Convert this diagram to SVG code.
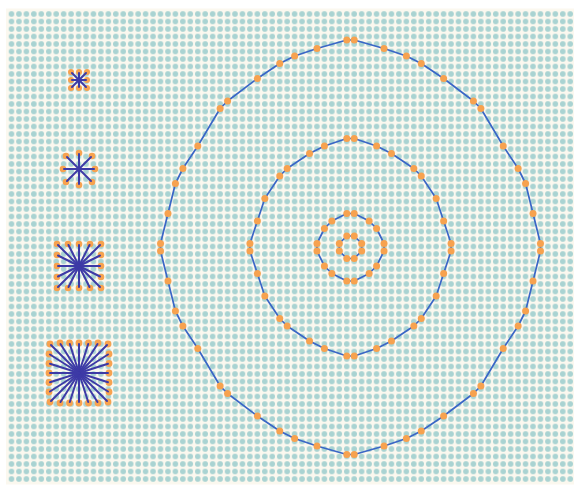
<svg xmlns="http://www.w3.org/2000/svg" width="577" height="491" viewBox="0 0 577 491">
<style>
.ring{fill:none;stroke:#3a66c6;stroke-width:1.7;stroke-linejoin:round}
.od{fill:#f7a24f}
.star line{stroke:#3d3aa6;stroke-width:2;stroke-linecap:round}
</style>
<defs>
<pattern id="grid" patternUnits="userSpaceOnUse" x="7.775" y="10.25" width="7.45" height="7.5">
<circle cx="3.725" cy="3.75" r="2.8" fill="#a9d3d2"/>
</pattern>
</defs>
<rect width="577" height="491" fill="#ffffff"/>
<rect x="6" y="8.5" width="568" height="476" fill="#fbf8ef"/>
<rect x="7.775" y="10.25" width="566.2" height="472.5" fill="url(#grid)"/>

<g id="connectors">
<polygon class="ring" points="354.225,40 384.025,48.5 406.375,56 421.275,63.5 443.625,78.5 473.425,101 480.875,108.5 503.225,146 518.125,168.5 525.575,183.5 533.025,213.5 540.475,243.5 540.475,251 533.025,281 525.575,311 518.125,326 503.225,348.5 480.875,386 473.425,393.5 443.625,416 421.275,431 406.375,438.5 384.025,446 354.225,454.5 346.775,454.5 316.975,446 294.625,438.5 279.725,431 257.375,416 227.575,393.5 220.125,386 197.775,348.5 182.875,326 175.425,311 167.975,281 160.525,251 160.525,243.5 167.975,213.5 175.425,183.5 182.875,168.5 197.775,146 220.125,108.5 227.575,101 257.375,78.5 279.725,63.5 294.625,56 316.975,48.5 346.775,40"/>
<polygon class="ring" points="354.225,138.5 376.575,146 391.475,153.5 413.825,168.5 421.275,176 436.175,198.5 443.625,221 451.075,243.5 451.075,251 443.625,273.5 436.175,296 421.275,318.5 413.825,326 391.475,341 376.575,348.5 354.225,356 346.775,356 324.425,348.5 309.525,341 287.175,326 279.725,318.5 264.825,296 257.375,273.5 249.925,251 249.925,243.5 257.375,221 264.825,198.5 279.725,176 287.175,168.5 309.525,153.5 324.425,146 346.775,138.5"/>
<polygon class="ring" points="354.225,213.5 369.125,221 376.575,228.5 384.025,243.5 384.025,251 376.575,266 369.125,273.5 354.225,281 346.775,281 331.875,273.5 324.425,266 316.975,251 316.975,243.5 324.425,228.5 331.875,221 346.775,213.5"/>
<polygon class="ring" points="354.225,236 361.675,243.5 361.675,251 354.225,258.5 346.775,258.5 339.325,251 339.325,243.5 346.775,236"/>
</g>

<g id="ring-outer" class="od">
<circle cx="354.225" cy="40" r="3.5"/><circle cx="384.025" cy="48.5" r="3.5"/><circle cx="406.375" cy="56" r="3.5"/><circle cx="421.275" cy="63.5" r="3.5"/><circle cx="443.625" cy="78.5" r="3.5"/><circle cx="473.425" cy="101" r="3.5"/><circle cx="480.875" cy="108.5" r="3.5"/><circle cx="503.225" cy="146" r="3.5"/><circle cx="518.125" cy="168.5" r="3.5"/><circle cx="525.575" cy="183.5" r="3.5"/><circle cx="533.025" cy="213.5" r="3.5"/><circle cx="540.475" cy="243.5" r="3.5"/>
<circle cx="540.475" cy="251" r="3.5"/><circle cx="533.025" cy="281" r="3.5"/><circle cx="525.575" cy="311" r="3.5"/><circle cx="518.125" cy="326" r="3.5"/><circle cx="503.225" cy="348.5" r="3.5"/><circle cx="480.875" cy="386" r="3.5"/><circle cx="473.425" cy="393.5" r="3.5"/><circle cx="443.625" cy="416" r="3.5"/><circle cx="421.275" cy="431" r="3.5"/><circle cx="406.375" cy="438.5" r="3.5"/><circle cx="384.025" cy="446" r="3.5"/><circle cx="354.225" cy="454.5" r="3.5"/>
<circle cx="346.775" cy="454.5" r="3.5"/><circle cx="316.975" cy="446" r="3.5"/><circle cx="294.625" cy="438.5" r="3.5"/><circle cx="279.725" cy="431" r="3.5"/><circle cx="257.375" cy="416" r="3.5"/><circle cx="227.575" cy="393.5" r="3.5"/><circle cx="220.125" cy="386" r="3.5"/><circle cx="197.775" cy="348.5" r="3.5"/><circle cx="182.875" cy="326" r="3.5"/><circle cx="175.425" cy="311" r="3.5"/><circle cx="167.975" cy="281" r="3.5"/><circle cx="160.525" cy="251" r="3.5"/>
<circle cx="160.525" cy="243.5" r="3.5"/><circle cx="167.975" cy="213.5" r="3.5"/><circle cx="175.425" cy="183.5" r="3.5"/><circle cx="182.875" cy="168.5" r="3.5"/><circle cx="197.775" cy="146" r="3.5"/><circle cx="220.125" cy="108.5" r="3.5"/><circle cx="227.575" cy="101" r="3.5"/><circle cx="257.375" cy="78.5" r="3.5"/><circle cx="279.725" cy="63.5" r="3.5"/><circle cx="294.625" cy="56" r="3.5"/><circle cx="316.975" cy="48.5" r="3.5"/><circle cx="346.775" cy="40" r="3.5"/>
</g>

<g id="ring-middle" class="od">
<circle cx="354.225" cy="138.5" r="3.5"/><circle cx="376.575" cy="146" r="3.5"/><circle cx="391.475" cy="153.5" r="3.5"/><circle cx="413.825" cy="168.5" r="3.5"/><circle cx="421.275" cy="176" r="3.5"/><circle cx="436.175" cy="198.5" r="3.5"/><circle cx="443.625" cy="221" r="3.5"/><circle cx="451.075" cy="243.5" r="3.5"/>
<circle cx="451.075" cy="251" r="3.5"/><circle cx="443.625" cy="273.5" r="3.5"/><circle cx="436.175" cy="296" r="3.5"/><circle cx="421.275" cy="318.5" r="3.5"/><circle cx="413.825" cy="326" r="3.5"/><circle cx="391.475" cy="341" r="3.5"/><circle cx="376.575" cy="348.5" r="3.5"/><circle cx="354.225" cy="356" r="3.5"/>
<circle cx="346.775" cy="356" r="3.5"/><circle cx="324.425" cy="348.5" r="3.5"/><circle cx="309.525" cy="341" r="3.5"/><circle cx="287.175" cy="326" r="3.5"/><circle cx="279.725" cy="318.5" r="3.5"/><circle cx="264.825" cy="296" r="3.5"/><circle cx="257.375" cy="273.5" r="3.5"/><circle cx="249.925" cy="251" r="3.5"/>
<circle cx="249.925" cy="243.5" r="3.5"/><circle cx="257.375" cy="221" r="3.5"/><circle cx="264.825" cy="198.5" r="3.5"/><circle cx="279.725" cy="176" r="3.5"/><circle cx="287.175" cy="168.5" r="3.5"/><circle cx="309.525" cy="153.5" r="3.5"/><circle cx="324.425" cy="146" r="3.5"/><circle cx="346.775" cy="138.5" r="3.5"/>
</g>

<g id="ring-inner" class="od">
<circle cx="354.225" cy="213.5" r="3.5"/><circle cx="369.125" cy="221" r="3.5"/><circle cx="376.575" cy="228.5" r="3.5"/><circle cx="384.025" cy="243.5" r="3.5"/><circle cx="384.025" cy="251" r="3.5"/><circle cx="376.575" cy="266" r="3.5"/><circle cx="369.125" cy="273.5" r="3.5"/><circle cx="354.225" cy="281" r="3.5"/>
<circle cx="346.775" cy="281" r="3.5"/><circle cx="331.875" cy="273.5" r="3.5"/><circle cx="324.425" cy="266" r="3.5"/><circle cx="316.975" cy="251" r="3.5"/><circle cx="316.975" cy="243.5" r="3.5"/><circle cx="324.425" cy="228.5" r="3.5"/><circle cx="331.875" cy="221" r="3.5"/><circle cx="346.775" cy="213.5" r="3.5"/>
</g>

<g id="ring-innermost" class="od">
<circle cx="354.225" cy="236" r="3.5"/><circle cx="361.675" cy="243.5" r="3.5"/><circle cx="361.675" cy="251" r="3.5"/><circle cx="354.225" cy="258.5" r="3.5"/><circle cx="346.775" cy="258.5" r="3.5"/><circle cx="339.325" cy="251" r="3.5"/><circle cx="339.325" cy="243.5" r="3.5"/><circle cx="346.775" cy="236" r="3.5"/>
</g>

<g id="star-1" class="star" transform="translate(79,80)">
<g class="od"><circle cx="-8" cy="-8" r="3"/><circle cx="0" cy="-8" r="3"/><circle cx="8" cy="-8" r="3"/><circle cx="8" cy="0" r="3"/><circle cx="8" cy="8" r="3"/><circle cx="0" cy="8" r="3"/><circle cx="-8" cy="8" r="3"/><circle cx="-8" cy="0" r="3"/></g>
<line x1="0" y1="0" x2="-7" y2="-7"/><line x1="0" y1="0" x2="0" y2="-7"/><line x1="0" y1="0" x2="7" y2="-7"/><line x1="0" y1="0" x2="7" y2="0"/><line x1="0" y1="0" x2="7" y2="7"/><line x1="0" y1="0" x2="0" y2="7"/><line x1="0" y1="0" x2="-7" y2="7"/><line x1="0" y1="0" x2="-7" y2="0"/>
</g>

<g id="star-2" class="star" transform="translate(79,169)">
<g class="od"><circle cx="-13" cy="-13" r="3.3"/><circle cx="0" cy="-16" r="3.3"/><circle cx="13" cy="-13" r="3.3"/><circle cx="16" cy="0" r="3.3"/><circle cx="13" cy="13" r="3.3"/><circle cx="0" cy="16" r="3.3"/><circle cx="-13" cy="13" r="3.3"/><circle cx="-16" cy="0" r="3.3"/></g>
<line x1="0" y1="0" x2="-12" y2="-12"/><line x1="0" y1="0" x2="0" y2="-15"/><line x1="0" y1="0" x2="12" y2="-12"/><line x1="0" y1="0" x2="15" y2="0"/><line x1="0" y1="0" x2="12" y2="12"/><line x1="0" y1="0" x2="0" y2="15"/><line x1="0" y1="0" x2="-12" y2="12"/><line x1="0" y1="0" x2="-15" y2="0"/>
</g>

<g id="star-3" class="star" transform="translate(79,266)">
<g class="od"><circle cx="-22" cy="-22" r="3.3"/><circle cx="-11" cy="-22" r="3.3"/><circle cx="0" cy="-22" r="3.3"/><circle cx="11" cy="-22" r="3.3"/><circle cx="22" cy="-22" r="3.3"/><circle cx="22" cy="-11" r="3.3"/><circle cx="22" cy="0" r="3.3"/><circle cx="22" cy="11" r="3.3"/><circle cx="22" cy="22" r="3.3"/><circle cx="11" cy="22" r="3.3"/><circle cx="0" cy="22" r="3.3"/><circle cx="-11" cy="22" r="3.3"/><circle cx="-22" cy="22" r="3.3"/><circle cx="-22" cy="11" r="3.3"/><circle cx="-22" cy="0" r="3.3"/><circle cx="-22" cy="-11" r="3.3"/></g>
<line x1="0" y1="0" x2="-21" y2="-21"/><line x1="0" y1="0" x2="-10.5" y2="-21"/><line x1="0" y1="0" x2="0" y2="-21"/><line x1="0" y1="0" x2="10.5" y2="-21"/><line x1="0" y1="0" x2="21" y2="-21"/><line x1="0" y1="0" x2="21" y2="-10.5"/><line x1="0" y1="0" x2="21" y2="0"/><line x1="0" y1="0" x2="21" y2="10.5"/><line x1="0" y1="0" x2="21" y2="21"/><line x1="0" y1="0" x2="10.5" y2="21"/><line x1="0" y1="0" x2="0" y2="21"/><line x1="0" y1="0" x2="-10.5" y2="21"/><line x1="0" y1="0" x2="-21" y2="21"/><line x1="0" y1="0" x2="-21" y2="10.5"/><line x1="0" y1="0" x2="-21" y2="0"/><line x1="0" y1="0" x2="-21" y2="-10.5"/>
</g>

<g id="star-4" class="star" transform="translate(79,373)">
<g class="od"><circle cx="-29" cy="-29" r="3.4"/><circle cx="-19" cy="-30" r="3.4"/><circle cx="-9.5" cy="-30" r="3.4"/><circle cx="0" cy="-30" r="3.4"/><circle cx="9.5" cy="-30" r="3.4"/><circle cx="19" cy="-30" r="3.4"/><circle cx="29" cy="-29" r="3.4"/><circle cx="30" cy="-19" r="3.4"/><circle cx="30" cy="-9.5" r="3.4"/><circle cx="30" cy="0" r="3.4"/><circle cx="30" cy="9.5" r="3.4"/><circle cx="30" cy="19" r="3.4"/><circle cx="29" cy="29" r="3.4"/><circle cx="19" cy="30" r="3.4"/><circle cx="9.5" cy="30" r="3.4"/><circle cx="0" cy="30" r="3.4"/><circle cx="-9.5" cy="30" r="3.4"/><circle cx="-19" cy="30" r="3.4"/><circle cx="-29" cy="29" r="3.4"/><circle cx="-30" cy="19" r="3.4"/><circle cx="-30" cy="9.5" r="3.4"/><circle cx="-30" cy="0" r="3.4"/><circle cx="-30" cy="-9.5" r="3.4"/><circle cx="-30" cy="-19" r="3.4"/></g>
<line x1="0" y1="0" x2="-28" y2="-28"/><line x1="0" y1="0" x2="-18.5" y2="-29"/><line x1="0" y1="0" x2="-9.2" y2="-29"/><line x1="0" y1="0" x2="0" y2="-29"/><line x1="0" y1="0" x2="9.2" y2="-29"/><line x1="0" y1="0" x2="18.5" y2="-29"/><line x1="0" y1="0" x2="28" y2="-28"/><line x1="0" y1="0" x2="29" y2="-18.5"/><line x1="0" y1="0" x2="29" y2="-9.2"/><line x1="0" y1="0" x2="29" y2="0"/><line x1="0" y1="0" x2="29" y2="9.2"/><line x1="0" y1="0" x2="29" y2="18.5"/><line x1="0" y1="0" x2="28" y2="28"/><line x1="0" y1="0" x2="18.5" y2="29"/><line x1="0" y1="0" x2="9.2" y2="29"/><line x1="0" y1="0" x2="0" y2="29"/><line x1="0" y1="0" x2="-9.2" y2="29"/><line x1="0" y1="0" x2="-18.5" y2="29"/><line x1="0" y1="0" x2="-28" y2="28"/><line x1="0" y1="0" x2="-29" y2="18.5"/><line x1="0" y1="0" x2="-29" y2="9.2"/><line x1="0" y1="0" x2="-29" y2="0"/><line x1="0" y1="0" x2="-29" y2="-9.2"/><line x1="0" y1="0" x2="-29" y2="-18.5"/>
</g>
</svg>
